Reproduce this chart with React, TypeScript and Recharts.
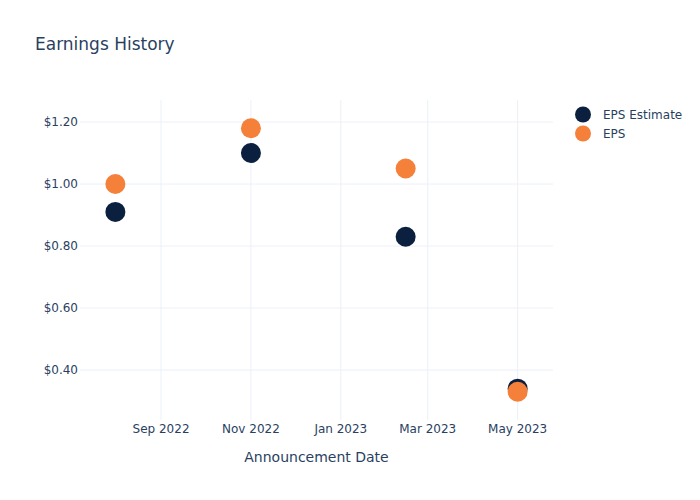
import { ScatterChart, Scatter, XAxis, YAxis, CartesianGrid } from "recharts";

// announcement dates (UTC) and values
const dates = ["2022-08-01", "2022-11-01", "2023-02-14", "2023-05-01"];
const epsEstimate = [0.91, 1.1, 0.83, 0.34];
const eps = [1.0, 1.18, 1.05, 0.33];

const xTickDates = ["2022-09-01", "2022-11-01", "2023-01-01", "2023-03-01", "2023-05-01"];
const yTicks = [0.4, 0.6, 0.8, 1.0, 1.2];

const toTs = (d: string) => new Date(d + "T00:00:00Z").getTime();

const estimateData = dates.map((d, i) => ({ date: toTs(d), value: epsEstimate[i] }));
const epsData = dates.map((d, i) => ({ date: toTs(d), value: eps[i] }));
const xTicks = xTickDates.map(toTs);

const xDomain = [toTs("2022-07-08"), toTs("2023-05-25")];
const yDomain = [0.239, 1.271];

const NAVY = "#0b1f3f";
const ORANGE = "#f5803a";
const TEXT = "#2a3f5f";
const FONT = "'DejaVu Sans', Verdana, sans-serif";

const months = ["Jan", "Feb", "Mar", "Apr", "May", "Jun", "Jul", "Aug", "Sep", "Oct", "Nov", "Dec"];
const formatMonth = (ts: number) => {
  const d = new Date(ts);
  return `${months[d.getUTCMonth()]} ${d.getUTCFullYear()}`;
};

const Dot = (color: string) => (props: any) => (
  <circle cx={props.cx} cy={props.cy} r={10} fill={color} />
);

const legendItems = [
  { name: "EPS Estimate", color: NAVY },
  { name: "EPS", color: ORANGE },
];

// grid only at the tick values, no lines on the plot edges
const gridY = ({ offset }: any) =>
  yTicks.map((t) => offset.top + ((yDomain[1] - t) / (yDomain[1] - yDomain[0])) * offset.height);
const gridX = ({ offset }: any) =>
  xTicks.map((t) => offset.left + ((t - xDomain[0]) / (xDomain[1] - xDomain[0])) * offset.width);

export default function App() {
  return (
    <div style={{ position: "absolute", top: 0, left: 0, width: 700, height: 500, background: "#fff" }}>
      <div style={{ position: "absolute", left: 35, top: 34, fontFamily: FONT, fontSize: 17, color: TEXT }}>
        Earnings History
      </div>
      <div style={{ position: "absolute", left: 573, top: 105, fontFamily: FONT, fontSize: 12, color: TEXT }}>
        {legendItems.map((item) => (
          <div key={item.name} style={{ display: "flex", alignItems: "center", height: 19 }}>
            <svg width={30} height={19}>
              <circle cx={10} cy={9.5} r={8} fill={item.color} />
            </svg>
            <span>{item.name}</span>
          </div>
        ))}
      </div>
      <ScatterChart width={700} height={500} margin={{ top: 100, right: 147, bottom: 20, left: 10 }}>
        <CartesianGrid
          stroke="#ebf0f8"
          strokeWidth={1}
          horizontalCoordinatesGenerator={gridY}
          verticalCoordinatesGenerator={gridX}
        />
        <XAxis
          type="number"
          dataKey="date"
          domain={xDomain}
          ticks={xTicks}
          tickFormatter={formatMonth}
          axisLine={false}
          tickLine={false}
          tickSize={0}
          height={60}
          tickMargin={4}
          tick={{ fill: TEXT, fontSize: 12, fontFamily: FONT }}
          label={{
            value: "Announcement Date",
            position: "insideBottom",
            offset: 18,
            fill: TEXT,
            fontSize: 14,
            fontFamily: FONT,
          }}
        />
        <YAxis
          type="number"
          dataKey="value"
          domain={yDomain}
          ticks={yTicks}
          tickFormatter={(v: number) => `$${v.toFixed(2)}`}
          axisLine={false}
          tickLine={false}
          tickSize={0}
          width={70}
          tickMargin={2}
          tick={{ fill: TEXT, fontSize: 12, fontFamily: FONT }}
        />
        <Scatter name="EPS Estimate" data={estimateData} fill={NAVY} shape={Dot(NAVY)} isAnimationActive={false} />
        <Scatter name="EPS" data={epsData} fill={ORANGE} shape={Dot(ORANGE)} isAnimationActive={false} />
      </ScatterChart>
    </div>
  );
}
